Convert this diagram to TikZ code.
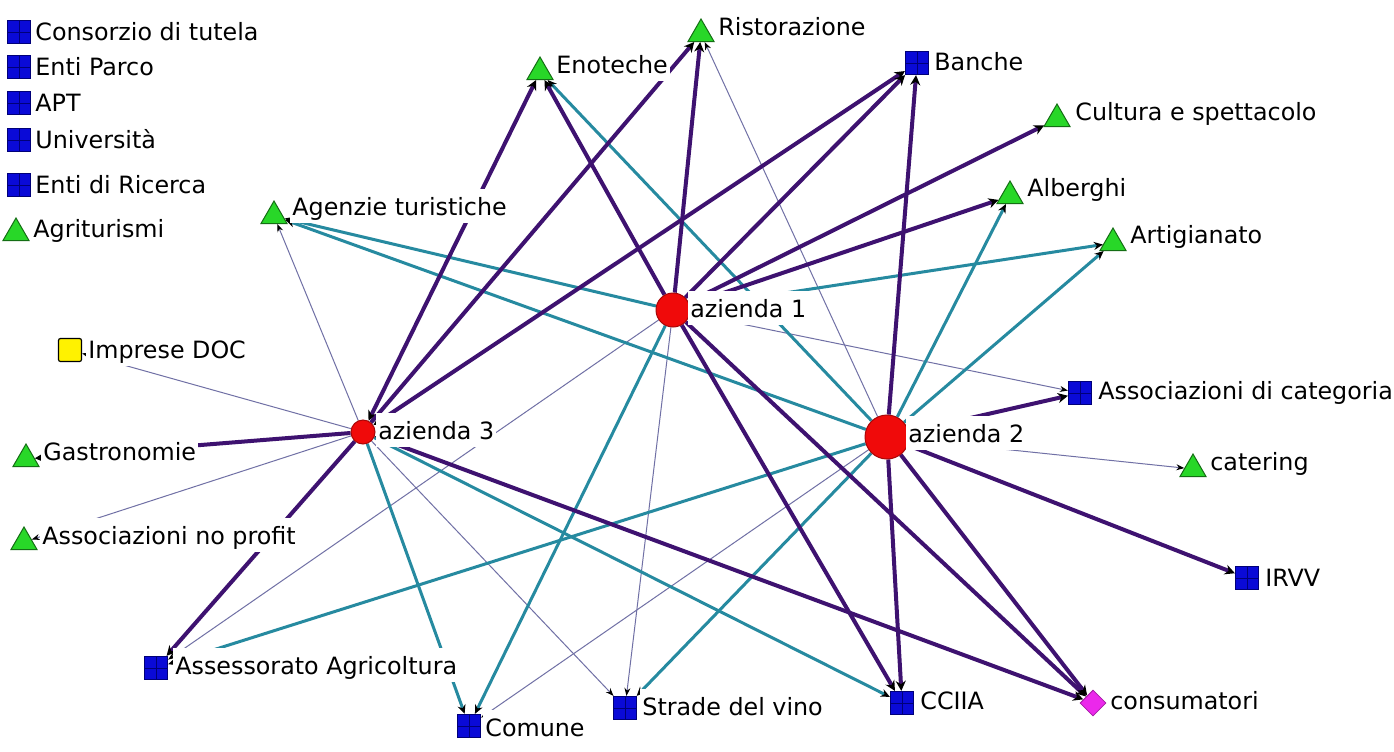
\documentclass[tikz,border=0pt]{standalone}
\usepackage{fontspec}
\setmainfont{DejaVu Sans}
\usetikzlibrary{shapes.geometric,arrows.meta,backgrounds}
\definecolor{cpurple}{RGB}{62,18,112}
\definecolor{cteal}{RGB}{38,138,160}
\definecolor{cthin}{RGB}{112,112,165}
\definecolor{sqblue}{RGB}{10,10,215}
\definecolor{sqdark}{RGB}{0,0,120}
\definecolor{trigreen}{RGB}{40,215,40}
\definecolor{trigdark}{RGB}{20,110,20}
\definecolor{azred}{RGB}{240,10,10}
\definecolor{pinkd}{RGB}{235,40,235}
\tikzset{
  sq/.style={rectangle, minimum size=11.5pt, inner sep=0pt, fill=sqblue, draw=sqdark, line width=0.6pt,
    path picture={\draw[sqdark,line width=0.5pt] (path picture bounding box.north) -- (path picture bounding box.south) (path picture bounding box.west) -- (path picture bounding box.east);}},
  ysq/.style={rectangle, rounded corners=1pt, minimum size=11.5pt, inner sep=0pt, fill=yellow, draw=black, line width=0.6pt},
  tri/.style={regular polygon, regular polygon sides=3, minimum size=15pt, inner sep=0pt, fill=trigreen, draw=trigdark, line width=0.5pt},
  dia/.style={diamond, minimum width=13pt, minimum height=13pt, inner sep=0pt, fill=pinkd, draw=pinkd!70!black, line width=0.4pt},
  az/.style={circle, inner sep=0pt, fill=azred, draw=azred!70!black, line width=0.5pt},
  lg/.style={anchor=base west, inner xsep=1pt, inner ysep=0pt, font=\fontsize{11.9}{14}\selectfont},
  lbl/.style={lg, fill=white, inner ysep=0.5pt, text height=13pt, text depth=3pt},
  pe/.style={draw=cpurple, line width=2pt, -{Stealth[length=5pt,width=5pt,color=black]}},
  pebi/.style={draw=cpurple, line width=2pt, {Stealth[length=5pt,width=5pt,color=black]}-{Stealth[length=5pt,width=5pt,color=black]}},
  te/.style={draw=cteal, line width=1.5pt, -{Stealth[length=4.5pt,width=4pt,color=black]}},
  th/.style={draw=cthin, line width=0.5pt, -{Stealth[length=4pt,width=3pt,color=black]}}
}
\begin{document}
\begin{tikzpicture}[x=0.5pt,y=-0.5pt]
\useasboundingbox (0,0) rectangle (1394,751);
% legend
\node[sq] (gCons) at (19,32) {};
\node[sq] (gParco) at (19,67) {};
\node[sq] (gApt) at (19,103) {};
\node[sq] (gUniv) at (19,140) {};
\node[sq] (gRic) at (19,185) {};
\node[tri] (gAgri) at (16,233) {};
% network shapes
\node[tri] (rist) at (701,34) {};
\node[tri] (enot) at (540,72) {};
\node[sq] (banche) at (917,63) {};
\node[tri] (cult) at (1057,119) {};
\node[tri] (alb) at (1010,196) {};
\node[tri] (art) at (1113,243) {};
\node[tri] (agen) at (274,216) {};
\node[az, minimum size=17pt] (az1) at (673,310) {};
\node[ysq] (impr) at (70,350) {};
\node[sq] (asscat) at (1080,393) {};
\node[az, minimum size=12pt] (az3) at (363,432) {};
\node[az, minimum size=22pt] (az2) at (887,437) {};
\node[tri] (gast) at (26,459) {};
\node[tri] (cat) at (1193,469) {};
\node[tri] (nopr) at (24,542) {};
\node[sq] (irvv) at (1247,578) {};
\node[sq] (assess) at (156,668) {};
\node[sq] (comune) at (469,726) {};
\node[sq] (strade) at (625,708) {};
\node[sq] (cciia) at (902,703) {};
\node[dia] (consum) at (1093,703) {};
% edges
\begin{pgfonlayer}{background}
\fill[white] (0,0) rectangle (1394,751);
% thin
\draw[th] (az3) -- (agen);
\draw[th] (az3) -- (impr);
\draw[th] (az3) -- (nopr);
\draw[th] (az3) -- (strade);
\draw[th] (az1) -- (strade);
\draw[th] (az1) -- (assess);
\draw[th] (az1) -- (asscat);
\draw[th] (az2) -- (rist);
\draw[th] (az2) -- (comune);
\draw[th] (az2) -- (cat);
% teal
\draw[te] (az3) -- (comune);
\draw[te] (az3) -- (cciia);
\draw[te] (az1) -- (comune);
\draw[te] (az1) -- (art);
\draw[te] (az1) -- (agen);
\draw[te] (az2) -- (agen);
\draw[te] (az2) -- (enot);
\draw[te] (az2) -- (alb);
\draw[te] (az2) -- (art);
\draw[te] (az2) -- (strade);
\draw[te] (az2) -- (assess);
% purple
\draw[pebi] (az3) -- (enot);
\draw[pe] (az3) -- (rist);
\draw[pebi] (az3) -- (banche);
\draw[pe] (az3) -- (gast);
\draw[pe] (az3) -- (assess);
\draw[pebi] (az3) -- (consum);
\draw[pe] (az1) -- (enot);
\draw[pe] (az1) -- (rist);
\draw[pe] (az1) -- (banche);
\draw[pe] (az1) -- (cult);
\draw[pe] (az1) -- (alb);
\draw[pe] (az1) -- (cciia);
\draw[pe] (az1) -- (consum);
\draw[pe] (az2) -- (banche);
\draw[pe] (az2) -- (asscat);
\draw[pe] (az2) -- (irvv);
\draw[pe] (az2) -- (cciia);
\draw[pe] (az2) -- (consum);
\end{pgfonlayer}
% legend labels
\node[lg] (lCons) at (33,40.7) {Consorzio di tutela};
\node[lg] (lParco) at (33,75.7) {Enti Parco};
\node[lg] (lApt) at (33,111.7) {APT};
\node[lg] (lUniv) at (33,148.7) {Università};
\node[lg] (lRic) at (33,193.7) {Enti di Ricerca};
\node[lg] (lAgri) at (31,237.7) {Agriturismi};
% network labels
\node[lbl] (lrist) at (716,35.7) {Ristorazione};
\node[lbl] (lenot) at (554,73.7) {Enoteche};
\node[lbl] (lbanche) at (932,70.7) {Banche};
\node[lbl] (lcult) at (1073,120.7) {Cultura e spettacolo};
\node[lbl] (lalb) at (1025,196.7) {Alberghi};
\node[lbl] (lart) at (1128,243.7) {Artigianato};
\node[lbl] (lagen) at (290,215.7) {Agenzie turistiche};
\node[lbl] (laz1) at (688,317.7) {azienda 1};
\node[lbl] (limpr) at (86,358.7) {Imprese DOC};
\node[lbl] (lasscat) at (1096,399.7) {Associazioni di categoria};
\node[lbl] (laz3) at (376,439.7) {azienda 3};
\node[lbl] (laz2) at (906,442.7) {azienda 2};
\node[lbl] (lgast) at (41,460.7) {Gastronomie};
\node[lbl] (lcat) at (1208,470.7) {catering};
\node[lbl] (lnopr) at (40,544.7) {Associazioni no profit};
\node[lbl] (lirvv) at (1263,586.7) {IRVV};
\node[lbl] (lassess) at (173,674.7) {Assessorato Agricoltura};
\node[lbl] (lcomune) at (483,736.7) {Comune};
\node[lbl] (lstrade) at (640,715.7) {Strade del vino};
\node[lbl] (lcciia) at (918,709.7) {CCIIA};
\node[lbl] (lconsum) at (1108,709.7) {consumatori};
\end{tikzpicture}
\end{document}
